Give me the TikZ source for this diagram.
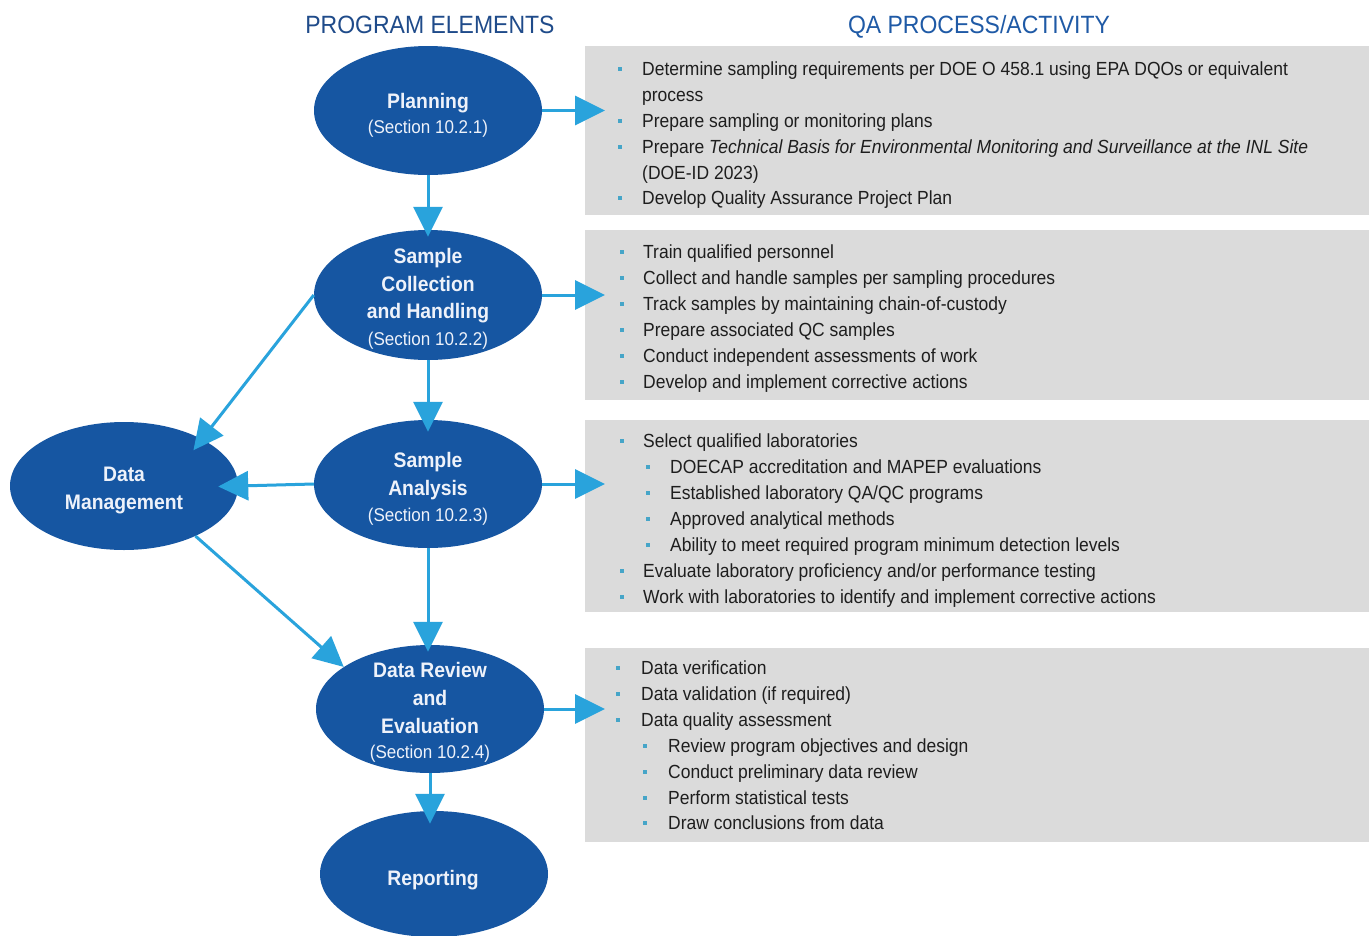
\documentclass[tikz,border=0pt]{standalone}
\usepackage{fontspec}
\setmainfont{Liberation Sans}[FakeStretch=0.92]
\usetikzlibrary{shapes.geometric,arrows.meta}
\definecolor{hdrA}{RGB}{31,75,138}
\definecolor{hdrB}{RGB}{31,90,166}
\definecolor{ellc}{RGB}{22,86,162}
\definecolor{ellt}{RGB}{238,242,250}
\definecolor{arrc}{RGB}{41,163,220}
\definecolor{boxc}{RGB}{219,219,219}
\definecolor{txtc}{RGB}{30,30,30}
\definecolor{bulc}{RGB}{70,165,200}
\tikzset{
  elem/.style={ellipse, fill=ellc, draw=none, minimum width=228pt, minimum height=129pt, inner sep=0pt},
  qabox/.style={rectangle, fill=boxc, draw=none, anchor=north west, inner sep=0pt},
  arr/.style={draw=arrc, line width=3pt, -{Triangle[length=30pt,width=29pt]}},
  txt/.style={anchor=base west, inner sep=0pt, text=txtc, font=\fontsize{19}{22}\selectfont},
  bul/.style={rectangle, fill=bulc, minimum size=4.5pt, inner sep=0pt},
  etb/.style={anchor=base, inner sep=0pt, text=ellt, font=\fontsize{21}{24}\selectfont\bfseries},
  ets/.style={anchor=base, inner sep=0pt, text=ellt, font=\fontsize{18.5}{22}\selectfont},
  hdr/.style={anchor=base, inner sep=0pt, font=\fontsize{25}{28}\selectfont}
}
\newcommand{\bitem}[5]{\node[bul] (#1b) at (#2,#4-3) {}; \node[txt] (#1) at (#3,#4+3) {#5};}
\newcommand{\contline}[4]{\node[txt] (#1) at (#2,#3+3) {#4};}
\begin{document}
\begin{tikzpicture}[x=1pt,y=-1pt]
\useasboundingbox (0,0) rectangle (1369,935);
\fill[white] (0,0) rectangle (1369,935);
% headers
\node[hdr, text=hdrA] (h1) at (430,33) {PROGRAM ELEMENTS};
\node[hdr, text=hdrB] (h2) at (979,33) {QA PROCESS/ACTIVITY};
% gray boxes
\node[qabox, minimum width=784pt, minimum height=169pt] (box1) at (585,46) {};
\node[qabox, minimum width=784pt, minimum height=170pt] (box2) at (585,230) {};
\node[qabox, minimum width=784pt, minimum height=192pt] (box3) at (585,420) {};
\node[qabox, minimum width=784pt, minimum height=194pt] (box4) at (585,648) {};
% ellipses
\node[elem] (plan) at (428,110.5) {};
\node[elem, minimum height=130pt] (coll) at (428,295) {};
\node[elem, minimum height=128pt] (anal) at (428,484) {};
\node[elem, minimum height=128pt] (rev) at (430,709) {};
\node[elem, minimum height=126pt] (rep) at (434,874) {};
\node[elem, minimum height=128pt] (dm) at (124,486) {};
% ellipse texts
\node[etb] (planA) at (428,108) {Planning};
\node[ets] (planB) at (428,133) {(Section 10.2.1)};
\node[etb] (collA) at (428,263) {Sample};
\node[etb] (collB) at (428,291) {Collection};
\node[etb] (collC) at (428,318) {and Handling};
\node[ets] (collD) at (428,345) {(Section 10.2.2)};
\node[etb] (analA) at (428,467) {Sample};
\node[etb] (analB) at (428,495) {Analysis};
\node[ets] (analC) at (428,521) {(Section 10.2.3)};
\node[etb] (revA) at (430,677) {Data Review};
\node[etb] (revB) at (430,705) {and};
\node[etb] (revC) at (430,733) {Evaluation};
\node[ets] (revD) at (430,758) {(Section 10.2.4)};
\node[etb] (repA) at (433,885) {Reporting};
\node[etb] (dmA) at (124,481) {Data};
\node[etb] (dmB) at (124,509) {Management};
% arrows
\draw[arr, shorten >=-7pt] (plan.south) -- (coll.north);
\draw[arr, shorten >=-12pt] (coll.south) -- (anal.north);
\draw[arr, shorten >=-7pt] (anal.south) -- (anal.south |- rev.north);
\draw[arr, shorten >=-13pt] (rev.south) -- (rev.south |- rep.north);
\draw[arr, shorten >=-20pt] (plan.east) -- (plan.east -| box1.west);
\draw[arr, shorten >=-20pt] (coll.east) -- (coll.east -| box2.west);
\draw[arr, shorten >=-20pt] (anal.east) -- (anal.east -| box3.west);
\draw[arr, shorten >=-20pt] (rev.east) -- (rev.east -| box4.west);
\draw[arr, shorten >=-14pt] (coll.west) -- (dm.31);
\draw[arr, shorten >=-20pt] (anal.west) -- (dm.east);
\draw[arr] (dm.-35) -- (rev.154);
% box 1
\bitem{a1}{620}{642}{72}{Determine sampling requirements per DOE O 458.1 using EPA DQOs or equivalent}
\contline{a1c}{642}{98}{process}
\bitem{a2}{620}{642}{124}{Prepare sampling or monitoring plans}
\bitem{a3}{620}{642}{150}{Prepare \textit{Technical Basis for Environmental Monitoring and Surveillance at the INL Site}}
\contline{a3c}{642}{176}{(DOE-ID 2023)}
\bitem{a4}{620}{642}{201}{Develop Quality Assurance Project Plan}
% box 2
\bitem{b1}{622}{643}{255}{Train qualified personnel}
\bitem{b2}{622}{643}{281}{Collect and handle samples per sampling procedures}
\bitem{b3}{622}{643}{307}{Track samples by maintaining chain-of-custody}
\bitem{b4}{622}{643}{333}{Prepare associated QC samples}
\bitem{b5}{622}{643}{359}{Conduct independent assessments of work}
\bitem{b6}{622}{643}{385}{Develop and implement corrective actions}
% box 3
\bitem{c1}{622}{643}{444}{Select qualified laboratories}
\bitem{c2}{648}{670}{470}{DOECAP accreditation and MAPEP evaluations}
\bitem{c3}{648}{670}{496}{Established laboratory QA/QC programs}
\bitem{c4}{648}{670}{522}{Approved analytical methods}
\bitem{c5}{648}{670}{548}{Ability to meet required program minimum detection levels}
\bitem{c6}{622}{643}{574}{Evaluate laboratory proficiency and/or performance testing}
\bitem{c7}{622}{643}{600}{Work with laboratories to identify and implement corrective actions}
% box 4
\bitem{d1}{618}{641}{671}{Data verification}
\bitem{d2}{618}{641}{697}{Data validation (if required)}
\bitem{d3}{618}{641}{723}{Data quality assessment}
\bitem{d4}{645}{668}{749}{Review program objectives and design}
\bitem{d5}{645}{668}{775}{Conduct preliminary data review}
\bitem{d6}{645}{668}{801}{Perform statistical tests}
\bitem{d7}{645}{668}{826}{Draw conclusions from data}
\end{tikzpicture}
\end{document}
